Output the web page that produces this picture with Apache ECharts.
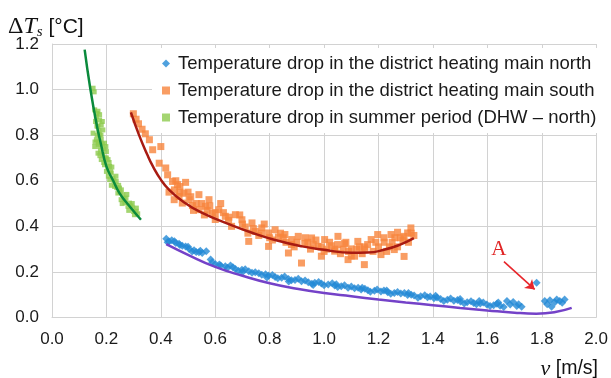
<!DOCTYPE html>
<html><head><meta charset="utf-8">
<script src="https://cdn.jsdelivr.net/npm/echarts@6/dist/echarts.min.js"></script>
<style>html,body{margin:0;padding:0;background:#fff}#c{width:611px;height:378px}</style>
</head><body><div id="c"></div>
<script>
const xTickLabels = ['0.0','0.2','0.4','0.6','0.8','1.0','1.2','1.4','1.6','1.8','2.0'];
const yTickLabels = ['0.0','0.2','0.4','0.6','0.8','1.0','1.2'];
const seriesNames = ['Temperature drop in the district heating main north','Temperature drop in the district heating main south','Temperature drop in summer period (DHW \u2013 north)'];

const northPts = [[0.42,0.345],[0.43,0.334],[0.44,0.339],[0.455,0.327],[0.467,0.324],[0.479,0.315],[0.491,0.312],[0.504,0.301],[0.522,0.295],[0.540,0.286],[0.552,0.283],[0.567,0.291],[0.583,0.254],[0.589,0.242],[0.637,0.225],[0.656,0.228],[0.674,0.213],[0.698,0.210],[0.723,0.203],[0.747,0.199],[0.771,0.188],[0.796,0.184],[0.820,0.178],[0.844,0.174],[0.869,0.169],[0.893,0.164],[0.917,0.159],[0.942,0.155],[0.966,0.152],[0.990,0.149],[1.015,0.145],[1.039,0.140],[1.063,0.137],[1.088,0.130],[1.112,0.128],[1.136,0.123],[1.161,0.120],[1.185,0.117],[1.209,0.114],[1.234,0.111],[1.258,0.108],[1.282,0.105],[1.307,0.099],[1.331,0.096],[1.355,0.093],[1.380,0.089],[1.404,0.084],[1.428,0.081],[1.453,0.078],[1.477,0.074],[1.501,0.070],[1.526,0.067],[1.550,0.064],[1.574,0.061],[1.598,0.057],[1.623,0.054],[1.647,0.052],[1.672,0.072],[1.684,0.057],[1.708,0.050],[1.726,0.047],[1.781,0.152],[1.811,0.072],[1.830,0.076],[1.848,0.067],[1.866,0.072],[1.884,0.079],[1.836,0.047],
[0.425,0.33],[0.45,0.335],[0.47,0.318],[0.50,0.31],[0.515,0.29],[0.53,0.287],[0.545,0.293],[0.60,0.235],[0.615,0.232],[0.645,0.218],[0.665,0.22],[0.685,0.205],[0.71,0.212],[0.735,0.196],[0.76,0.194],[0.785,0.19],[0.81,0.186],[0.83,0.172],[0.855,0.18],[0.88,0.163],[0.905,0.17],[0.93,0.162],[0.955,0.148],[0.98,0.156],[1.0,0.141],[1.03,0.15],[1.05,0.134],[1.075,0.142],[1.10,0.136],[1.125,0.131],[1.15,0.126],[1.17,0.113],[1.195,0.123],[1.22,0.119],[1.245,0.104],[1.27,0.112],[1.295,0.107],[1.32,0.1],[1.345,0.087],[1.37,0.098],[1.39,0.092],[1.415,0.088],[1.44,0.072],[1.465,0.083],[1.49,0.077],[1.515,0.061],[1.54,0.071],[1.56,0.058],[1.585,0.066],[1.61,0.05],[1.635,0.06],[1.66,0.046],[1.695,0.068],[1.715,0.058],[1.82,0.058],[1.855,0.079],[1.875,0.065],
[0.62,0.228],[0.70,0.198],[0.79,0.176],[0.87,0.158],[0.96,0.143],[1.045,0.146],[1.14,0.131],[1.23,0.118],[1.31,0.108],[1.41,0.095],[1.50,0.081],[1.57,0.072],[1.64,0.066]];

const southPts = [[0.299,0.894],[0.309,0.870],[0.318,0.850],[0.331,0.826],[0.343,0.806],[0.358,0.780],[0.370,0.736],[0.400,0.750],[0.418,0.656],[0.394,0.677],[0.425,0.626],[0.443,0.597],[0.461,0.583],[0.491,0.593],[0.449,0.517],[0.467,0.531],[0.479,0.502],[0.504,0.517],[0.516,0.491],[0.540,0.539],[0.540,0.473],[0.564,0.488],[0.577,0.517],[0.589,0.458],[0.613,0.473],[0.637,0.444],[0.649,0.426],[0.674,0.451],[0.698,0.429],[0.710,0.397],[0.735,0.415],[0.747,0.378],[0.771,0.393],[0.796,0.371],[0.820,0.385],[0.832,0.353],[0.856,0.364],[0.881,0.342],[0.905,0.356],[0.929,0.324],[0.954,0.349],[0.978,0.312],[1.002,0.342],[1.027,0.315],[1.051,0.356],[1.075,0.324],[1.100,0.301],[1.124,0.334],[1.148,0.310],[1.173,0.342],[1.197,0.364],[1.221,0.330],[1.246,0.364],[1.270,0.374],[1.294,0.356],[1.319,0.393],[1.307,0.371],
[0.917,0.239],[0.990,0.269],[1.088,0.254],[1.148,0.232],[1.209,0.276],[1.294,0.268],[0.869,0.283],[1.039,0.291],[1.112,0.269],[1.258,0.298],[0.796,0.312],[0.723,0.334],
[0.86,0.33],[0.89,0.31],[0.93,0.35],[0.95,0.30],[0.97,0.34],[1.0,0.29],[1.02,0.33],[1.04,0.30],[1.06,0.28],[1.08,0.33],[1.10,0.27],[1.12,0.30],[1.14,0.28],[1.16,0.32],[1.18,0.29],[1.2,0.31],[1.23,0.29],[1.25,0.33],[1.27,0.31],[1.29,0.34],[1.31,0.33],[1.33,0.36],[0.60,0.43],[0.62,0.50],[0.66,0.40],[0.69,0.45],[0.72,0.37],[0.76,0.36],[0.78,0.41],[0.81,0.34],[0.84,0.37],[0.90,0.33],[0.52,0.47],[0.56,0.45],[0.47,0.55],[0.43,0.55],
[0.45,0.56],[0.455,0.60],[0.47,0.575],[0.485,0.545],[0.50,0.55],[0.51,0.53],[0.53,0.50],[0.55,0.50],[0.57,0.47],[0.58,0.49],[0.6,0.46],[0.63,0.46],[0.65,0.44],[0.7,0.41],[0.74,0.39],[0.77,0.37],[0.8,0.35],[0.85,0.35],[0.88,0.32],[0.94,0.33],[0.96,0.32],[0.99,0.31],[1.01,0.30],[1.05,0.32],[1.07,0.30],[1.09,0.29],[1.13,0.31],[1.15,0.30],[1.19,0.33],[1.24,0.31],[1.28,0.35],[1.32,0.37],[1.22,0.35],[1.26,0.35]];

const summerPts = [[0.151,1.006],[0.155,0.99],[0.157,0.911],[0.169,0.905],[0.163,0.882],[0.175,0.867],[0.181,0.845],[0.169,0.838],[0.187,0.823],[0.175,0.802],[0.163,0.780],[0.181,0.780],[0.157,0.750],[0.175,0.750],[0.193,0.765],[0.169,0.721],[0.187,0.714],[0.200,0.728],[0.181,0.693],[0.206,0.693],[0.193,0.670],[0.212,0.663],[0.200,0.641],[0.218,0.634],[0.224,0.612],[0.212,0.605],[0.236,0.597],[0.230,0.575],[0.248,0.568],[0.242,0.546],[0.260,0.539],[0.272,0.524],[0.254,0.517],[0.285,0.502],[0.279,0.488],[0.297,0.480],[0.309,0.466],[0.303,0.451],[0.151,0.809],[0.172,0.77],[0.19,0.74],[0.178,0.73],[0.196,0.70],[0.205,0.66],[0.215,0.64],[0.228,0.60],[0.238,0.57],[0.25,0.55],[0.265,0.52],[0.29,0.49],
[0.16,0.86],[0.165,0.84],[0.172,0.82],[0.18,0.80],[0.166,0.80],[0.158,0.77],[0.17,0.76],[0.185,0.76],[0.198,0.75],[0.176,0.71],[0.19,0.68],[0.2,0.70],[0.21,0.68],[0.22,0.66],[0.207,0.62],[0.218,0.58],[0.235,0.62],[0.245,0.58],[0.255,0.56],[0.258,0.50],[0.268,0.505],[0.275,0.54],[0.282,0.47],[0.295,0.50],[0.30,0.465],[0.31,0.48],[0.315,0.455],[0.165,0.895],[0.175,0.89],[0.185,0.86]];

const northFit = [[0.42,0.322],[0.5,0.275],[0.6,0.222],[0.7,0.183],[0.8,0.150],[0.9,0.126],[1.0,0.107],[1.1,0.093],[1.2,0.079],[1.3,0.066],[1.4,0.054],[1.5,0.042],[1.6,0.031],[1.7,0.021],[1.78,0.017],[1.85,0.024],[1.91,0.042]];
const southFit = [[0.29,0.90],[0.32,0.80],[0.35,0.715],[0.37,0.665],[0.40,0.605],[0.43,0.561],[0.48,0.51],[0.55,0.46],[0.65,0.41],[0.735,0.372],[0.82,0.34],[0.92,0.312],[1.0,0.297],[1.1,0.284],[1.16,0.285],[1.22,0.297],[1.28,0.32],[1.33,0.348]];
const summerFit = [[0.12,1.175],[0.14,1.01],[0.163,0.853],[0.18,0.76],[0.20,0.663],[0.225,0.60],[0.248,0.546],[0.285,0.488],[0.327,0.429]];

const arrowFrom = [1.661,0.245];
const arrowTo = [1.774,0.123];
const labelA = [1.642,0.298];

const chart = echarts.init(document.getElementById('c'), null, {renderer:'canvas'});
const sans = 'Liberation Sans, Arial, sans-serif';
const serif = 'Liberation Serif, Times New Roman, serif';
const gridColor = '#d2d2d2';
chart.setOption({
  animation:false,
  backgroundColor:'#fff',
  title:[
    {left:3, top:9, text:'{d|\u0394}{t|T}{s|s}{u| [\u00b0C]}',
     textStyle:{fontWeight:'normal', rich:{
       d:{fontFamily:serif, fontWeight:'normal', fontSize:24, color:'#111', lineHeight:26},
       t:{fontFamily:serif, fontWeight:'normal', fontStyle:'italic', fontSize:24, color:'#111', lineHeight:26},
       s:{fontFamily:serif, fontWeight:'normal', fontStyle:'italic', fontSize:15, color:'#111', verticalAlign:'bottom', lineHeight:26},
       u:{fontFamily:sans, fontWeight:'normal', fontSize:21, color:'#111', lineHeight:26}}}},
    {right:8, top:353, text:'{v|v}{u| [m/s]}',
     textStyle:{fontWeight:'normal', rich:{
       v:{fontFamily:serif, fontWeight:'normal', fontStyle:'italic', fontSize:22, color:'#111', lineHeight:22},
       u:{fontFamily:sans, fontWeight:'normal', fontSize:19.5, color:'#111', lineHeight:22}}}}
  ],
  legend:{
    data:seriesNames, orient:'vertical', left:152, top:48,
    itemWidth:8, itemHeight:8, itemGap:8,
    padding:[6,6,6,10], backgroundColor:'#fff',
    textStyle:{fontFamily:sans, fontSize:18.5, color:'#1a1a1a', padding:[0,0,0,3]},
    selectedMode:false
  },
  grid:{left:52, right:11, top:44, bottom:60.5, containLabel:false},
  xAxis:{type:'value', min:0, max:2, interval:0.2,
    axisLine:{show:true, lineStyle:{color:gridColor, width:1}},
    axisTick:{show:false},
    splitLine:{show:true, lineStyle:{color:gridColor, width:1}},
    axisLabel:{margin:13, fontFamily:sans, fontSize:17, color:'#1a1a1a',
      formatter:v=>xTickLabels[Math.round(v/0.2)]}},
  yAxis:{type:'value', min:0, max:1.2, interval:0.2,
    axisLine:{show:true, lineStyle:{color:gridColor, width:1}},
    axisTick:{show:false},
    splitLine:{show:true, lineStyle:{color:gridColor, width:1}},
    axisLabel:{margin:13, fontFamily:sans, fontSize:17, color:'#1a1a1a',
      formatter:v=>yTickLabels[Math.round(v/0.2)]}},
  series:[
    {name:seriesNames[0], type:'scatter', data:northPts, symbol:'diamond', symbolSize:8,
     itemStyle:{color:'#2389d6'}, z:2,
     markLine:{silent:true, symbol:['none','arrow'], symbolSize:9,
       itemStyle:{color:'#e8262b'},
       lineStyle:{color:'#e8262b', width:1.6, type:'solid'}, label:{show:false},
       data:[[{coord:arrowFrom},{coord:arrowTo}]]},
     markPoint:{silent:true, symbol:'circle', symbolSize:1, itemStyle:{color:'rgba(0,0,0,0)'},
       label:{show:true, position:'inside', formatter:'A', fontFamily:serif, fontSize:21, color:'#e02424'},
       data:[{coord:labelA}]}},
    {name:seriesNames[1], type:'scatter', data:southPts, symbol:'rect', symbolSize:7,
     itemStyle:{color:'#f7843c'}, z:2},
    {name:seriesNames[2], type:'scatter', data:summerPts, symbol:'rect', symbolSize:5,
     itemStyle:{color:'#8dcb4d'}, z:2},
    {type:'line', data:northFit, smooth:true, showSymbol:false, silent:true,
     lineStyle:{color:'#7442c8', width:2.5}, z:3},
    {type:'line', data:southFit, smooth:true, showSymbol:false, silent:true,
     lineStyle:{color:'#a81b12', width:2.5}, z:3},
    {type:'line', data:summerFit, smooth:true, showSymbol:false, silent:true,
     lineStyle:{color:'#0a8a3c', width:2.5}, z:3}
  ]
});
</script></body></html>
